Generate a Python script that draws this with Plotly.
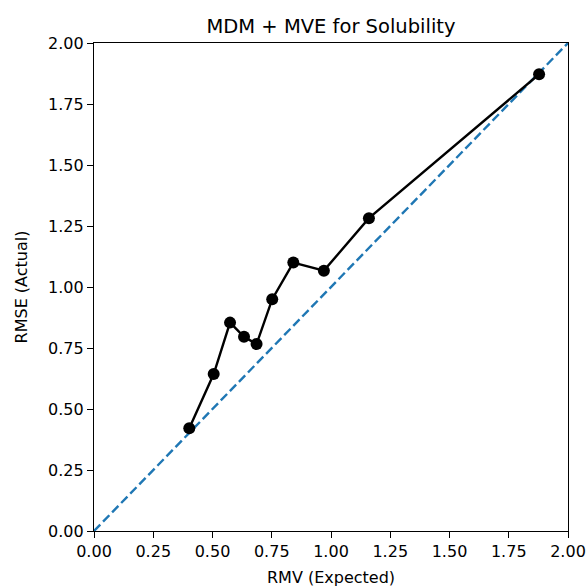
import plotly.graph_objects as go

rmv = [0.402, 0.505, 0.574, 0.633, 0.686, 0.752, 0.841, 0.970, 1.160, 1.878]
rmse = [0.421, 0.643, 0.854, 0.796, 0.766, 0.950, 1.100, 1.067, 1.282, 1.872]
ideal = [0.0, 2.0]
tick_vals = [0.0, 0.25, 0.5, 0.75, 1.0, 1.25, 1.5, 1.75, 2.0]
tick_text = ["0.00", "0.25", "0.50", "0.75", "1.00", "1.25", "1.50", "1.75", "2.00"]

fig = go.Figure()
fig.add_trace(go.Scatter(x=ideal, y=ideal, mode="lines",
                         line=dict(color="#1f77b4", width=2.4, dash="9px,4px"),
                         showlegend=False, cliponaxis=False))
fig.add_trace(go.Scatter(x=rmv, y=rmse, mode="lines+markers",
                         line=dict(color="black", width=2.4),
                         marker=dict(color="black", size=12),
                         showlegend=False, cliponaxis=False))

axis_common = dict(
    range=[0, 2], tickvals=tick_vals, ticktext=tick_text,
    showgrid=False, zeroline=False, showline=True, linecolor="black",
    linewidth=1.2, mirror=True, ticks="outside", ticklen=6, tickcolor="black",
    tickwidth=1.2, automargin=False,
    tickfont=dict(family="DejaVu Sans", size=16, color="black"),
)

fig.update_layout(
    width=588, height=588,
    margin=dict(l=94, r=20, t=43, b=57, autoexpand=False),
    plot_bgcolor="white", paper_bgcolor="white",
    title=dict(text="MDM + MVE for Solubility", x=(94 + 568) / 2 / 588, xanchor="center",
               xref="container",
               y=1 - 26 / 588, yanchor="middle",
               font=dict(family="DejaVu Sans", size=19.5, color="black")),
    xaxis=dict(**axis_common, title=dict(text="RMV (Expected)", standoff=11,
               font=dict(family="DejaVu Sans", size=16, color="black"))),
    yaxis=dict(**axis_common, title=dict(text="RMSE (Actual)", standoff=16,
               font=dict(family="DejaVu Sans", size=16, color="black"))),
)

fig.write_html("out.html")
